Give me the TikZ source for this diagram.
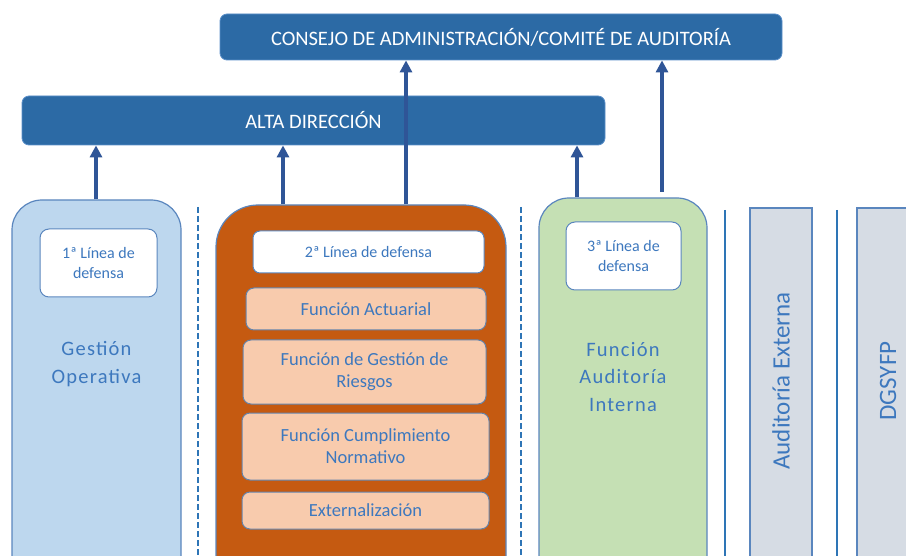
\documentclass[tikz,border=0pt]{standalone}
\usepackage{fontspec}
\setmainfont{Carlito}
\newfontfamily\spaced[LetterSpace=6]{Carlito}
\usetikzlibrary{arrows.meta}
\definecolor{hdr}{HTML}{2C6AA5}
\definecolor{hdrline}{HTML}{5B8FC9}
\definecolor{arrc}{HTML}{2F5597}
\definecolor{txtb}{HTML}{3D78BE}
\definecolor{lblue}{HTML}{BDD7EE}
\definecolor{orng}{HTML}{C55A11}
\definecolor{peach}{HTML}{F8CBAD}
\definecolor{lgreen}{HTML}{C5E0B4}
\definecolor{lgray}{HTML}{D6DCE4}
\definecolor{sepc}{HTML}{2E75B6}
\definecolor{edge}{HTML}{5A86BE}
\tikzset{
  hdrbox/.style={draw=hdrline, line width=0.8pt, fill=hdr, rounded corners=7pt, text=white, font=\fontsize{20.5}{24}\selectfont, inner sep=0pt},
  colbox/.style={draw=edge, line width=1.2pt, rounded corners=30pt, inner sep=0pt},
  whitebox/.style={draw=edge, line width=1pt, fill=white, rounded corners=9pt, text=txtb, align=center, font=\fontsize{16}{20}\selectfont, inner sep=0pt},
  peachbox/.style={draw=edge!70!gray, line width=1pt, fill=peach, rounded corners=8pt, text=txtb, align=center, font=\fontsize{18.5}{22}\selectfont, inner sep=0pt},
  bigtxt/.style={text=txtb, align=center, font=\spaced\fontsize{20.5}{27.5}\selectfont},
  arr/.style={draw=arrc, line width=3.2pt, -{Triangle[width=12pt,length=12pt]}},
  sepdash/.style={draw=sepc, line width=2.6pt, dash pattern=on 6pt off 3pt},
  sepsolid/.style={draw=sepc, line width=2.8pt},
  graybox/.style={draw=edge, line width=1.2pt, fill=lgray, inner sep=0pt},
  vtxt/.style={text=txtb, rotate=90, font=\fontsize{25}{28}\selectfont}
}
\begin{document}
\begin{tikzpicture}[x=1pt,y=-1pt]
\useasboundingbox (0,0) rectangle (906,556);
\clip (0,0) rectangle (906,556);
% header boxes
\node[hdrbox, minimum width=562pt, minimum height=46pt] (cons) at (501,37) {CONSEJO DE ADMINISTRACIÓN/COMITÉ DE AUDITORÍA};
\node[hdrbox, minimum width=583pt, minimum height=49pt] (alta) at (313.5,120.5) {ALTA DIRECCIÓN};
% columns
\node[colbox, fill=lblue, minimum width=169pt, minimum height=400pt] (gest) at (96.5,400) {};
\node[whitebox, minimum width=117pt, minimum height=68pt] (l1) at (98.5,263) {1ª Línea de\\defensa};
\node[bigtxt] (gesttxt) at (96.5,364) {Gestión\\Operativa};

\node[colbox, fill=orng, rounded corners=42pt, minimum width=290pt, minimum height=405pt] (orange) at (361,407.5) {};
\node[whitebox, rounded corners=7pt, minimum width=231pt, minimum height=42pt] (l2) at (368.5,252) {2ª Línea de defensa};
\node[peachbox, minimum width=240pt, minimum height=42pt] (act) at (366,309) {Función Actuarial};
\node[peachbox, minimum width=243pt, minimum height=64pt] (ries) at (364.5,372) {Función de Gestión de\\Riesgos};
\node[peachbox, minimum width=247pt, minimum height=67pt] (cump) at (365.5,446.5) {Función Cumplimiento\\Normativo};
\node[peachbox, minimum width=247pt, minimum height=37pt] (ext) at (365.5,510.5) {Externalización};

\node[colbox, fill=lgreen, minimum width=168pt, minimum height=402pt] (green) at (623,399) {};
\node[whitebox, minimum width=115pt, minimum height=68pt] (l3) at (623.5,256) {3ª Línea de\\defensa};
\node[bigtxt] (greentxt) at (623,377) {Función\\Auditoría\\Interna};

\node[graybox, minimum width=62pt, minimum height=400pt] (audext) at (781,408) {};
\node[vtxt] (audexttxt) at (781,381) {Auditoría Externa};
\node[graybox, minimum width=63pt, minimum height=400pt] (dgs) at (888.5,408) {};
\node[vtxt] (dgstxt) at (888,381) {DGSYFP};

% separators
\coordinate (s1a) at (198,207); \coordinate (s1b) at (198,560);
\coordinate (s2a) at (521,207); \coordinate (s2b) at (521,560);
\coordinate (s3a) at (725,210); \coordinate (s3b) at (725,560);
\coordinate (s4a) at (837,210); \coordinate (s4b) at (837,560);
\draw[sepdash] (s1a) -- (s1b);
\draw[sepdash] (s2a) -- (s2b);
\draw[sepsolid] (s3a) -- (s3b);
\draw[sepsolid] (s4a) -- (s4b);

% arrows
\coordinate (x1) at (96,0);
\coordinate (x2) at (283,0);
\coordinate (x3) at (406,0);
\coordinate (x4) at (577,0);
\coordinate (x5) at (662,0);
\coordinate (g5) at (662,192);
\draw[arr] (gest.north -| x1) -- (alta.south -| x1);
\draw[arr] (orange.north -| x2) -- (alta.south -| x2);
\draw[arr] (orange.north -| x3) -- (cons.south -| x3);
\draw[arr] (green.north -| x4) -- (alta.south -| x4);
\draw[arr] (g5) -- (cons.south -| x5);
\end{tikzpicture}
\end{document}
